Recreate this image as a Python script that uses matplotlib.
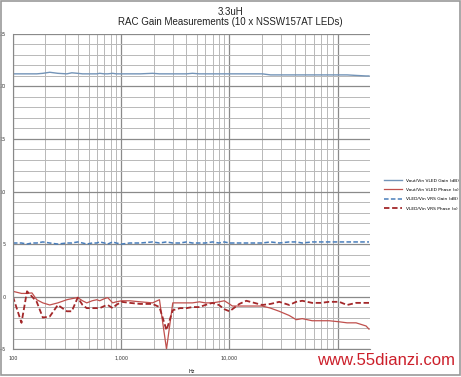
import matplotlib
matplotlib.use("Agg")
import matplotlib.pyplot as plt
from matplotlib.ticker import FixedLocator, FuncFormatter, MultipleLocator, NullFormatter
from matplotlib.patches import Rectangle

# frequency grid (Hz)
freq = [100, 120, 135, 150, 166, 189, 219, 260, 315, 350, 397, 440, 481, 540, 595,
        634, 700, 751, 835, 900, 1010, 1200, 1500, 1950, 2260, 2625, 3000, 3500,
        4015, 4560, 5290, 6000, 6970, 8000, 8990, 10000, 10660, 12370, 14350,
        17000, 20150, 24000, 28880, 35720, 41480, 47130, 58250, 70000, 83560,
        103300, 122400, 148200, 183300, 195000]

vled_gain = [21.2, 21.2, 21.2, 21.2, 21.2, 21.25, 21.35, 21.25, 21.2, 21.3, 21.25, 21.2,
             21.2, 21.2, 21.2, 21.25, 21.2, 21.2, 21.25, 21.2, 21.2, 21.2, 21.2, 21.25,
             21.2, 21.2, 21.2, 21.2, 21.2, 21.25, 21.2, 21.2, 21.2, 21.2, 21.2, 21.2,
             21.2, 21.2, 21.2, 21.2, 21.2, 21.1, 21.1, 21.1, 21.1, 21.1, 21.1, 21.1,
             21.1, 21.1, 21.1, 21.05, 21.0, 21.0]
vled_phase = [0.5, 0.3, 0.3, 0.35, -0.3, -0.6, -0.8, -0.6, -0.3, -0.2, -0.1, -0.4,
              -0.6, -0.4, -0.3, -0.4, -0.2, -0.1, -0.6, -0.5, -0.4, -0.4, -0.5, -0.6,
              -0.3, -5.0, -0.6, -0.6, -0.6, -0.6, -0.5, -0.6, -0.6, -0.5, -0.4, -0.7,
              -0.9, -0.9, -0.9, -0.9, -0.9, -1.1, -1.4, -1.8, -2.2, -2.1, -2.3, -2.3,
              -2.3, -2.4, -2.5, -2.5, -2.8, -3.1]
vrs_gain = [5.1, 5.1, 5.0, 5.1, 5.1, 5.2, 5.1, 5.0, 5.1, 5.1, 5.2, 5.1, 5.0, 5.1,
            5.1, 5.2, 5.1, 5.0, 5.2, 5.1, 5.0, 5.1, 5.1, 5.2, 5.1, 5.2, 5.1, 5.1,
            5.2, 5.1, 5.1, 5.1, 5.2, 5.1, 5.2, 5.1, 5.1, 5.1, 5.1, 5.1, 5.1, 5.2,
            5.1, 5.2, 5.2, 5.1, 5.2, 5.2, 5.2, 5.2, 5.2, 5.2, 5.2, 5.2]
vrs_phase = [0.0, -2.5, 0.5, 0.0, -0.5, -2.0, -1.9, -0.8, -1.4, -1.4, -0.1, -0.8,
             -1.1, -1.1, -1.1, -1.1, -0.9, -0.8, -1.1, -0.8, -0.5, -0.6, -0.7, -0.7,
             -1.0, -3.2, -1.3, -1.1, -1.1, -1.0, -1.0, -0.8, -0.6, -0.8, -1.2, -1.4,
             -1.2, -0.7, -0.4, -0.6, -0.8, -0.7, -0.5, -0.8, -0.5, -0.4, -0.6, -0.6,
             -0.5, -0.5, -0.8, -0.6, -0.6, -0.6]

labels = ["Vout/Vin VLED Gain (dB)", "Vout/Vin VLED Phase (o)",
          "VLED/Vin VRS Gain (dB)", "VLED/Vin VRS Phase (o)"]

fig = plt.figure(figsize=(4.61, 3.77), dpi=100)
fig.patches.append(Rectangle((0.002, 0.004), 0.996, 0.994, transform=fig.transFigure,
                             fill=False, edgecolor="#999999", lw=1.2))
ax = fig.add_axes([0.028, 0.074, 0.775, 0.836])

ax.plot(freq, vled_gain, color="#7394B8", lw=1.0, label=labels[0])
ax.plot(freq, vled_phase, color="#C0504D", lw=0.9, label=labels[1])
ax.plot(freq, vrs_gain, color="#4A7EBB", lw=1.1, ls=(0, (3, 1.5)), label=labels[2])
ax.plot(freq, vrs_phase, color="#A3282A", lw=1.3, ls=(0, (3, 1.5)), label=labels[3])

ax.set_xscale("log")
ax.set_xlim(100, 200000)
ax.set_ylim(-5, 25)
ax.yaxis.set_major_locator(MultipleLocator(5))
ax.yaxis.set_minor_locator(MultipleLocator(1))
ax.xaxis.set_major_locator(FixedLocator([100, 1000, 10000, 100000]))
minors = [m * d for d in (100, 1000, 10000) for m in range(2, 10)]
ax.xaxis.set_minor_locator(FixedLocator(minors))
ax.xaxis.set_minor_formatter(NullFormatter())
ax.xaxis.set_major_formatter(FuncFormatter(lambda v, p: f"{int(v):,}" if v < 100000 else ""))

ax.grid(which="major", color="#8a8a8a", lw=0.9)
ax.grid(which="minor", color="#b8b8b8", lw=0.7)
ax.set_axisbelow(True)
ax.tick_params(which="both", length=0, labelsize=3.5, colors="#333333", pad=5)
for s in ("top", "right"):
    ax.spines[s].set_visible(False)
for s in ("left", "bottom"):
    ax.spines[s].set_color("#888888")
ax.set_xlabel("Hz", fontsize=3.5, labelpad=6)

fig.text(0.5, 0.969, "3.3uH", ha="center", va="center", fontsize=7,
         family="Liberation Sans", color="#222222")
fig.text(0.5, 0.941, "RAC Gain Measurements (10 x NSSW157AT LEDs)", ha="center",
         va="center", fontsize=7, family="Liberation Sans", color="#222222")

ax.legend(loc="center left", bbox_to_anchor=(1.035, 0.49), frameon=False,
          fontsize=3.2, handlelength=4, labelspacing=1.2, borderaxespad=0)

fig.text(0.987, 0.045, "www.55dianzi.com", ha="right", va="center", fontsize=12,
         family="Liberation Sans", color="#CC1F2A",
         bbox=dict(facecolor="white", edgecolor="none", pad=1))

fig.savefig("out.png", dpi=100)
